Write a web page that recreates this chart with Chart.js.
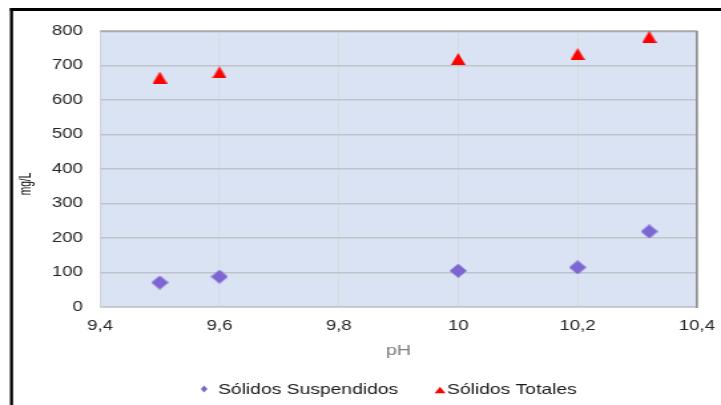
<!DOCTYPE html>
<html>
<head>
<meta charset="utf-8">
<script src="https://cdn.jsdelivr.net/npm/chart.js@4/dist/chart.umd.min.js"></script>
<style>
  html, body { margin: 0; padding: 0; background: #ffffff; overflow: hidden; }
  #wrap { position: relative; width: 721px; height: 405px; overflow: hidden; }
  /* the chart is laid out narrow and widened to the full page width */
  #c { transform: scaleX(1.3303); transform-origin: 0 0; }
</style>
</head>
<body>
<div id="wrap"><canvas id="c" width="542" height="405"></canvas></div>
<script>
// pH readings and measured solids (mg/L)
const phValues = [9.5, 9.6, 10.0, 10.2, 10.32];
const suspendedSolids = [71, 88, 105, 115, 219];
const totalSolids = [665, 680, 719, 733, 783];
const seriesNames = ['Sólidos Suspendidos', 'Sólidos Totales'];
const xTickLabels = ['9,4', '9,6', '9,8', '10', '10,2', '10,4'];
const yTickLabels = ['0', '100', '200', '300', '400', '500', '600', '700', '800'];
const axisTitles = { x: 'pH', y: 'mg/L' };

const FONT = 'Liberation Sans, Arial, sans-serif';
const PURPLE = '#7B66D2';
const RED = '#FF0000';

const toPoints = ys => phValues.map((x, i) => ({ x, y: ys[i] }));

// marker sprites (drawn narrower than tall, the page widens them)
function diamondPath(ctx, cx, cy, hw, hh) {
  ctx.beginPath();
  ctx.moveTo(cx, cy - hh);
  ctx.lineTo(cx + hw, cy);
  ctx.lineTo(cx, cy + hh);
  ctx.lineTo(cx - hw, cy);
  ctx.closePath();
}
function trianglePath(ctx, cx, cy, hw, hh) {
  ctx.beginPath();
  ctx.moveTo(cx, cy - hh);
  ctx.lineTo(cx + hw, cy + hh);
  ctx.lineTo(cx - hw, cy + hh);
  ctx.closePath();
}
function sprite(w, h, color, pathFn) {
  const c = document.createElement('canvas');
  c.width = w; c.height = h;
  const g = c.getContext('2d');
  g.fillStyle = color;
  pathFn(g, w / 2, h / 2, w / 2, h / 2);
  g.fill();
  return c;
}
const diamondMark = sprite(13, 14, PURPLE, diamondPath);
const triangleMark = sprite(11, 12, RED, trianglePath);

// plot background, plot edges, outer frame, y title and legend
const framePlugin = {
  id: 'frame',
  beforeDraw(chart) {
    const { ctx, chartArea: a } = chart;
    ctx.save();
    ctx.fillStyle = '#DAE3F3';
    ctx.fillRect(a.left, a.top, a.right - a.left, a.bottom - a.top);
    ctx.restore();
  },
  beforeDatasetsDraw(chart) {
    const { ctx, chartArea: a } = chart;
    ctx.save();
    ctx.strokeStyle = '#A8A8A8';
    ctx.lineWidth = 1.5;
    ctx.beginPath();
    ctx.moveTo(a.left, a.top + 0.5);
    ctx.lineTo(a.right, a.top + 0.5);
    ctx.stroke();
    ctx.strokeStyle = '#D0D0D0';
    ctx.lineWidth = 1;
    ctx.beginPath();
    ctx.moveTo(a.left, a.bottom + 0.5);
    ctx.lineTo(a.right, a.bottom + 0.5);
    ctx.stroke();
    ctx.lineWidth = 0.8;
    ctx.beginPath();
    ctx.moveTo(a.left + 0.4, a.top);
    ctx.lineTo(a.left + 0.4, a.bottom);
    ctx.stroke();
    ctx.strokeStyle = '#8A8A8A';
    ctx.lineWidth = 1.6;
    ctx.beginPath();
    ctx.moveTo(a.right, a.top);
    ctx.lineTo(a.right, a.bottom + 1);
    ctx.stroke();
    ctx.restore();
  },
  afterDraw(chart) {
    const { ctx, chartArea: a } = chart;
    ctx.save();
    // outer frame (top and left)
    ctx.fillStyle = '#000000';
    ctx.fillRect(7.5, 8, 534.5, 3);
    ctx.fillRect(7.5, 8, 2.3, 397);

    // vertical axis title
    ctx.save();
    ctx.translate(19, 184);
    ctx.rotate(-Math.PI / 2);
    ctx.scale(0.78, 1);
    ctx.font = '13px ' + FONT;
    ctx.fillStyle = '#000000';
    ctx.textAlign = 'center';
    ctx.textBaseline = 'middle';
    ctx.fillText(axisTitles.y, 0, 0);
    ctx.restore();

    // legend
    const ly = 390;
    const x0 = a.left + 78.2;
    ctx.font = '14.5px ' + FONT;
    ctx.textAlign = 'left';
    ctx.textBaseline = 'middle';
    ctx.fillStyle = PURPLE;
    diamondPath(ctx, x0, ly - 1, 2.5, 3.5);
    ctx.fill();
    ctx.fillStyle = '#1A1A1A';
    ctx.fillText(seriesNames[0], x0 + 10.5, ly);
    const x1 = x0 + 177.4;
    ctx.fillStyle = RED;
    trianglePath(ctx, x1, ly, 4.15, 3.3);
    ctx.fill();
    ctx.fillStyle = '#1A1A1A';
    ctx.fillText(seriesNames[1], x1 + 5.2, ly);
    ctx.restore();
  }
};

new Chart(document.getElementById('c'), {
  type: 'scatter',
  data: {
    datasets: [
      {
        label: seriesNames[0],
        data: toPoints(suspendedSolids),
        pointStyle: diamondMark,
        pointRadius: 7,
        pointHoverRadius: 7,
        backgroundColor: PURPLE,
        borderColor: PURPLE,
        clip: false
      },
      {
        label: seriesNames[1],
        data: toPoints(totalSolids),
        pointStyle: triangleMark,
        pointRadius: 7,
        pointHoverRadius: 7,
        backgroundColor: RED,
        borderColor: RED,
        clip: false
      }
    ]
  },
  options: {
    responsive: false,
    animation: false,
    events: [],
    layout: { padding: { top: 31, right: 18.1, left: 0, bottom: 45 } },
    plugins: {
      tooltip: { enabled: false },
      legend: { display: false }
    },
    scales: {
      x: {
        type: 'linear',
        min: 9.4,
        max: 10.4,
        ticks: {
          stepSize: 0.2,
          padding: 11,
          color: '#262626',
          font: { family: FONT, size: 14 },
          callback: (v, i) => xTickLabels[i]
        },
        grid: { color: '#D5D8DD', lineWidth: 0.8, drawTicks: false },
        border: { display: false },
        title: {
          display: true,
          text: axisTitles.x,
          color: '#808080',
          padding: { top: 4, bottom: 0 },
          font: { family: FONT, size: 15 }
        },
        afterFit(scale) {
          scale.height = 53;
          scale.paddingLeft = 0;
          scale.paddingRight = 0;
        }
      },
      y: {
        min: 0,
        max: 800,
        ticks: {
          stepSize: 100,
          padding: 12.8,
          color: '#262626',
          font: { family: FONT, size: 14 },
          callback: (v, i) => yTickLabels[i]
        },
        grid: { color: '#BFC3CB', lineWidth: 1.5, drawTicks: false },
        border: { display: false },
        afterFit(scale) {
          scale.width = 75.2;
          scale.paddingTop = 0;
          scale.paddingBottom = 0;
        }
      }
    }
  },
  plugins: [framePlugin]
});
</script>
</body>
</html>
